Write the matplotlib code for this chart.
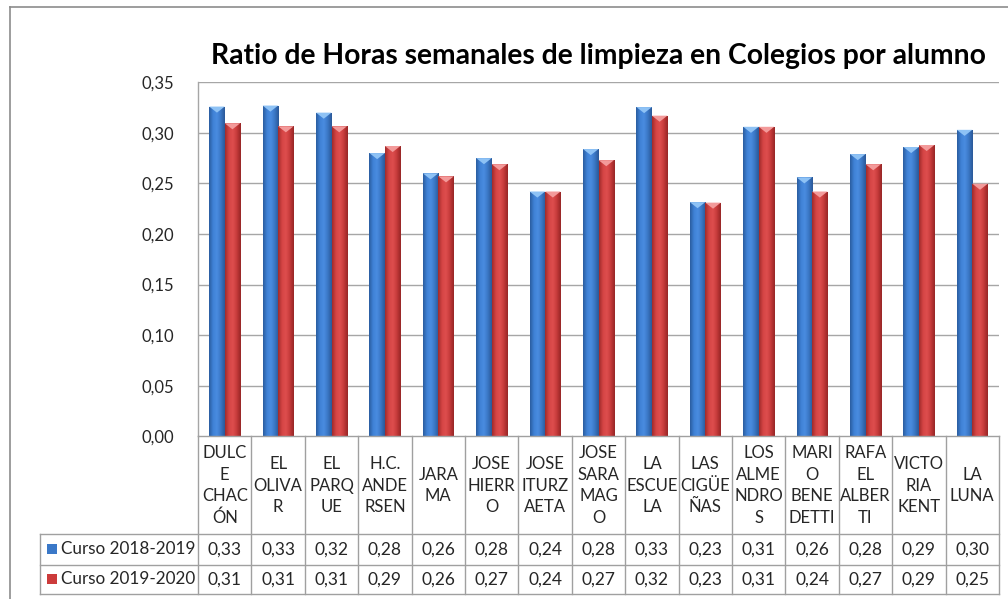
import matplotlib
matplotlib.use("Agg")
import matplotlib.pyplot as plt
import numpy as np
from matplotlib.colors import LinearSegmentedColormap
from matplotlib.patches import Polygon
from matplotlib.lines import Line2D

# ---------------- data ----------------
categories = ["DULC\nE\nCHAC\nÓN", "EL\nOLIVA\nR", "EL\nPARQ\nUE", "H.C.\nANDE\nRSEN",
              "JARA\nMA", "JOSE\nHIERR\nO", "JOSE\nITURZ\nAETA", "JOSE\nSARA\nMAG\nO",
              "LA\nESCUE\nLA", "LAS\nCIGÜE\nÑAS", "LOS\nALME\nNDRO\nS", "MARI\nO\nBENE\nDETTI",
              "RAFA\nEL\nALBER\nTI", "VICTO\nRIA\nKENT", "LA\nLUNA"]
series_names = ["Curso 2018-2019", "Curso 2019-2020"]
curso_2018_2019 = [0.326, 0.327, 0.320, 0.280, 0.260, 0.275, 0.242, 0.284,
                   0.3255, 0.2315, 0.306, 0.256, 0.279, 0.286, 0.303]
curso_2019_2020 = [0.3095, 0.3065, 0.3065, 0.287, 0.257, 0.269, 0.242, 0.273,
                   0.317, 0.231, 0.306, 0.242, 0.269, 0.288, 0.2497]
yticks = [0.00, 0.05, 0.10, 0.15, 0.20, 0.25, 0.30, 0.35]

FONT = "Lato"
W, H = 1008, 599
fig = plt.figure(figsize=(W / 100, H / 100), dpi=100)
fig.patch.set_facecolor("white")

def fy(py):
    return 1 - py / H

def fx(px):
    return px / W

ax_top, ax_bot = 82.3, 436.2
ax = fig.add_axes([fx(198), fy(ax_bot), fx(999) - fx(198), (ax_bot - ax_top) / H])
ax.set_xlim(-0.5, len(categories) - 0.5)
ax.set_ylim(0, 0.35)
ax.set_facecolor("white")

grid_c = "#A6A6A6"
for t in yticks[1:]:
    ax.axhline(t, color=grid_c, lw=1.0, zorder=0)
for s in ["top", "right", "bottom"]:
    ax.spines[s].set_visible(False)
ax.spines["left"].set_color(grid_c)
ax.spines["left"].set_linewidth(1.0)
ax.set_xticks([])
ax.set_yticks(yticks)
ax.set_yticklabels([f"{t:.2f}".replace(".", ",") for t in yticks],
                   fontsize=12, family=FONT, color="#262626")
ax.tick_params(axis="y", length=0, pad=17)

# gradient colormaps
blue_cm = LinearSegmentedColormap.from_list("b", ["#2A5C9E", "#3F82D6", "#4A8CE0", "#3A76C4", "#2A5897"])
red_cm = LinearSegmentedColormap.from_list("r", ["#A02A2A", "#D54545", "#DE4E4E", "#C53A3A", "#962626"])
tops = {"b": "#8EC2F5", "r": "#F39A9A"}

bw = 0.29
x = np.arange(len(categories))
grad = np.linspace(0, 1, 64).reshape(1, -1)
for vals, off, cm, key, col in [(curso_2018_2019, -bw / 2, blue_cm, "b", "#3A78C8"),
                                (curso_2019_2020, bw / 2, red_cm, "r", "#CC3B3B")]:
    bars = ax.bar(x + off, vals, width=bw, color=col, edgecolor="none", zorder=2)
    for b in bars:
        x0, w, h = b.get_x(), b.get_width(), b.get_height()
        im = ax.imshow(grad, cmap=cm, extent=(x0, x0 + w, 0, h), aspect="auto",
                       zorder=3, interpolation="bicubic")
        im.set_clip_path(b)
        d = 0.006
        ax.add_patch(Polygon([(x0, h), (x0 + w, h), (x0 + w * 0.5, h - d)],
                             closed=True, facecolor=tops[key], edgecolor="none", zorder=4))
ax.set_xlim(-0.5, len(categories) - 0.5)
ax.set_ylim(0, 0.35)

# ---------------- title ----------------
fig.text(fx(598), fy(56), "Ratio de Horas semanales de limpieza en Colegios por alumno",
         ha="center", va="center", fontsize=20.3, fontweight="bold", family=FONT, color="black")

# ---------------- data table ----------------
line_c = "#A0A0A0"
fig.canvas.draw()
to_fig = ax.transData + fig.transFigure.inverted()

def data_x_to_fig(xd):
    return to_fig.transform((xd, 0))[0]

bounds = [data_x_to_fig(i - 0.5) for i in range(len(categories) + 1)]
row_cat_bot, row1_bot, row2_bot = 534, 564.5, 594

def hline(x0, x1, py):
    fig.add_artist(Line2D([x0, x1], [fy(py), fy(py)], color=line_c, lw=1.0))

def vline(xf, py0, py1):
    fig.add_artist(Line2D([xf, xf], [fy(py0), fy(py1)], color=line_c, lw=1.0))

hline(bounds[0], bounds[-1], ax_bot)
for py in (row_cat_bot, row1_bot, row2_bot):
    hline(fx(40), bounds[-1], py)
vline(fx(40), row_cat_bot, row2_bot)
for b in bounds:
    vline(b, ax_bot, row2_bot)

centers = [data_x_to_fig(i) for i in range(len(categories))]
for cx, lab in zip(centers, categories):
    fig.text(cx, fy((ax_bot + row_cat_bot) / 2 + 0.5), lab, ha="center", va="center",
             fontsize=12, family=FONT, color="#262626", linespacing=1.42, multialignment="center")

for r, (vals, name, mcol, y0, y1) in enumerate([
        (curso_2018_2019, series_names[0], "#3A78C8", row_cat_bot, row1_bot),
        (curso_2019_2020, series_names[1], "#CC3B3B", row1_bot, row2_bot)]):
    yc = fy((y0 + y1) / 2)
    for cx, v in zip(centers, vals):
        fig.text(cx, yc, f"{v:.2f}".replace(".", ","), ha="center", va="center",
                 fontsize=12.5, family=FONT, color="#262626")
    fig.add_artist(plt.Rectangle((fx(47), yc - 5 / H), 10 / W, 10 / H,
                                 facecolor=mcol, edgecolor="none"))
    fig.text(fx(61), yc, name, ha="left", va="center", fontsize=12.3, family=FONT, color="#262626")

# outer chart border
fig.add_artist(Line2D([fx(10), fx(10)], [fy(7), 0], color="#8C8C8C", lw=1.2))
fig.add_artist(Line2D([fx(10), 1], [fy(7), fy(7)], color="#8C8C8C", lw=1.2))

fig.savefig("out.png", dpi=100, facecolor="white")
